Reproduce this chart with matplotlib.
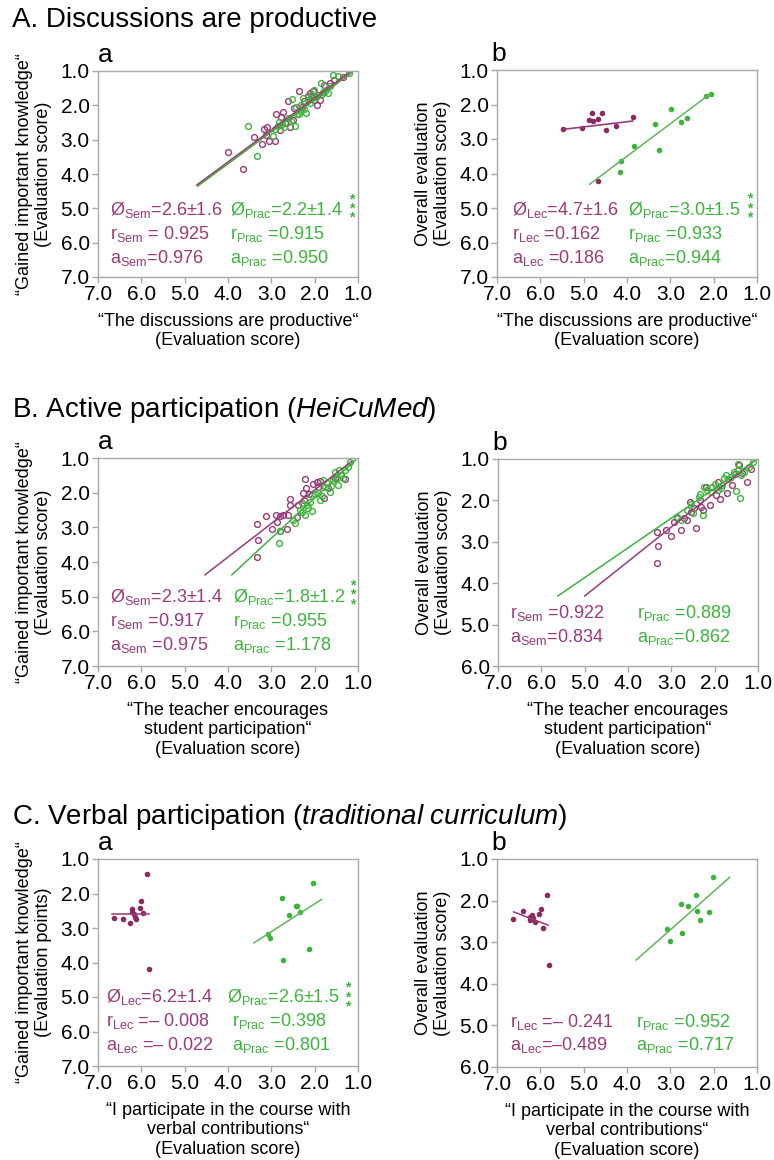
import matplotlib
matplotlib.use("Agg")
import matplotlib.pyplot as plt

plt.rcParams['font.family'] = ['Liberation Sans', 'DejaVu Sans']
plt.rcParams['mathtext.fontset'] = 'custom'
plt.rcParams['mathtext.rm'] = 'Liberation Sans'
plt.rcParams['mathtext.it'] = 'Liberation Sans:italic'

PURPLE = '#9a3a78'
GREEN = '#3cb43c'

# ---- A a: discussions productive vs gained knowledge (open circles)
aa_sem_x = [3.99, 3.66, 3.40, 3.22, 3.18, 3.11, 3.12, 3.05, 2.92, 2.89, 2.77, 2.72, 2.57, 2.51, 2.61, 2.48,
            2.35, 2.24, 2.15, 2.03, 2.01, 1.87, 1.78, 1.65, 1.35, 1.95, 2.80, 2.68, 2.30, 2.10, 1.55, 1.92]
aa_sem_y = [3.35, 3.86, 2.91, 3.14, 2.68, 2.62, 2.87, 3.04, 3.04, 2.26, 2.34, 2.19, 2.64, 2.43, 1.86, 2.08,
            1.57, 1.88, 1.74, 1.57, 1.84, 1.84, 1.42, 1.34, 1.17, 1.98, 2.72, 2.50, 2.05, 1.65, 1.25, 1.70]
aa_prac_x = [3.32, 3.53, 2.95, 2.92, 2.82, 2.70, 2.61, 2.55, 2.53, 2.42, 2.34, 2.32, 2.35, 2.21, 2.27, 2.08,
             2.02, 1.96, 1.84, 1.85, 1.76, 1.70, 1.57, 1.45, 1.21, 2.11, 2.45, 2.75, 2.40, 1.80, 2.15, 1.65,
             2.05, 2.85, 2.25]
aa_prac_y = [3.48, 2.60, 2.89, 2.68, 2.49, 2.64, 2.37, 2.47, 1.81, 2.04, 2.16, 2.00, 2.24, 2.22, 1.79, 1.69,
             1.54, 1.75, 1.67, 1.35, 1.57, 1.64, 1.13, 1.16, 1.05, 1.92, 2.61, 2.55, 2.25, 1.60, 1.85, 1.45,
             1.80, 2.60, 2.10]
aa_sem_line = ([4.72, 1.18], [4.32, 1.02])
aa_prac_line = ([4.70, 1.15], [4.35, 1.05])

# ---- A b: discussions productive vs overall evaluation (filled dots)
ab_lec_x = [5.47, 5.03, 4.80, 4.58, 4.88, 4.79, 4.66, 4.48, 4.25, 3.87, 4.67]
ab_lec_y = [2.72, 2.67, 2.26, 2.24, 2.44, 2.47, 2.43, 2.73, 2.61, 2.36, 4.23]
ab_prac_x = [2.17, 2.05, 2.99, 3.35, 2.76, 2.61, 3.84, 3.26, 4.14, 4.16]
ab_prac_y = [1.74, 1.70, 2.14, 2.57, 2.52, 2.38, 3.19, 3.31, 3.65, 3.95]
ab_lec_line = ([5.47, 3.87], [2.72, 2.48])
ab_prac_line = ([4.86, 2.11], [4.31, 1.72])

# ---- B a: teacher encourages participation vs gained knowledge
ba_sem_x = [3.32, 3.30, 3.32, 3.12, 2.99, 2.90, 2.88, 2.80, 2.72, 2.62, 2.79, 2.63, 2.58, 2.57, 2.38, 2.22,
            2.21, 2.26, 2.25, 2.03, 1.95, 1.93, 1.88, 1.78, 1.69, 1.30, 1.53, 2.41, 2.13]
ba_sem_y = [2.91, 3.36, 3.86, 2.68, 3.06, 2.64, 2.84, 2.67, 2.64, 2.65, 3.12, 3.05, 2.19, 2.36, 2.36, 1.61,
            1.86, 2.02, 2.21, 1.76, 1.68, 1.83, 1.66, 2.14, 1.87, 1.61, 1.59, 2.69, 2.05]
ba_prac_x = [2.82, 2.81, 2.49, 2.45, 2.34, 2.30, 2.22, 2.16, 2.07, 2.18, 2.11, 1.99, 1.92, 1.82, 1.88, 1.76,
             1.72, 1.62, 1.57, 1.49, 1.53, 1.44, 1.39, 1.34, 1.45, 1.30, 1.18, 1.22, 1.65, 2.07, 2.30, 1.80]
ba_prac_y = [3.44, 3.12, 2.79, 2.88, 2.50, 2.55, 2.64, 2.45, 2.53, 2.36, 2.26, 2.05, 2.02, 2.09, 2.21, 1.83,
             1.73, 1.80, 1.63, 1.57, 1.39, 1.35, 1.49, 1.59, 1.78, 1.35, 1.12, 1.25, 1.97, 2.07, 2.31, 1.63]
ba_sem_line = ([4.53, 1.15], [4.37, 1.10])
ba_prac_line = ([3.91, 1.05], [4.37, 1.05])

# ---- B b: teacher encourages participation vs overall evaluation
bb_sem_x = [3.32, 3.30, 3.32, 3.13, 3.00, 2.94, 2.77, 2.86, 2.71, 2.63, 2.44, 2.55, 2.48, 2.32, 2.28, 2.34,
            2.57, 2.20, 1.92, 1.87, 1.97, 1.72, 1.61, 1.43, 1.26, 1.36, 1.16, 1.53, 2.11]
bb_sem_y = [3.50, 3.09, 2.76, 2.71, 2.85, 2.51, 2.71, 2.43, 2.42, 2.47, 2.67, 2.27, 2.19, 2.15, 2.23, 1.99,
            2.03, 1.67, 1.55, 1.97, 1.87, 1.83, 1.63, 1.14, 1.55, 1.35, 1.23, 1.37, 2.11]
bb_prac_x = [2.55, 2.63, 2.51, 2.86, 2.78, 2.36, 2.34, 2.24, 2.17, 2.09, 2.05, 2.00, 1.82, 1.78, 1.74, 1.69,
             1.63, 1.56, 1.47, 1.39, 1.32, 1.47, 1.20, 1.12, 1.51, 1.41, 1.86, 2.28, 1.93]
bb_prac_y = [2.09, 2.23, 2.31, 2.39, 2.47, 1.91, 1.85, 1.67, 1.75, 1.79, 1.67, 1.61, 1.63, 1.47, 1.39, 1.48,
             1.43, 1.31, 1.27, 1.39, 1.31, 1.13, 1.19, 1.07, 1.77, 1.95, 1.71, 2.35, 1.75]
bb_sem_line = ([5.00, 1.10], [4.31, 1.06])
bb_prac_line = ([5.62, 1.01], [4.31, 1.00])

# ---- C a: verbal contributions vs gained knowledge
ca_lec_x = [5.87, 6.64, 6.43, 6.26, 6.21, 6.22, 6.18, 6.15, 6.13, 6.04, 6.01, 5.97, 5.82]
ca_lec_y = [1.43, 2.71, 2.75, 2.85, 2.44, 2.53, 2.60, 2.67, 2.73, 2.41, 2.22, 2.56, 4.19]
ca_prac_x = [2.03, 2.75, 2.42, 2.60, 2.33, 3.08, 3.02, 2.12, 2.74, 2.40]
ca_prac_y = [1.69, 2.12, 2.35, 2.63, 2.55, 3.17, 3.29, 3.62, 3.93, 2.37]
ca_lec_line = ([6.68, 5.82], [2.59, 2.59])
ca_prac_line = ([3.40, 1.84], [3.43, 2.17])

# ---- C b: verbal contributions vs overall evaluation
cb_lec_x = [5.85, 6.62, 6.41, 6.20, 6.24, 6.18, 6.12, 6.02, 5.99, 5.95, 5.79, 6.25]
cb_lec_y = [1.86, 2.45, 2.26, 2.35, 2.47, 2.43, 2.51, 2.33, 2.21, 2.66, 3.54, 2.40]
cb_prac_x = [2.02, 2.41, 2.75, 2.59, 2.39, 2.11, 2.32, 3.08, 2.72, 3.01]
cb_prac_y = [1.44, 1.86, 2.08, 2.14, 2.26, 2.27, 2.47, 2.68, 2.77, 2.98]
cb_lec_line = ([6.62, 5.82], [2.27, 2.59])
cb_prac_line = ([3.79, 1.63], [3.43, 1.44])

ticks7 = [7.0, 6.0, 5.0, 4.0, 3.0, 2.0, 1.0]
ticks6 = [6.0, 5.0, 4.0, 3.0, 2.0, 1.0]

fig = plt.figure(figsize=(7.74, 11.6), dpi=100)


def make_ax(rect, ymax, letter, letter_x):
    ax = fig.add_axes(rect)
    ax.set_xlim(7, 1)
    ax.set_ylim(ymax, 1)
    ax.set_xticks(ticks7)
    ax.set_xticklabels([f"{t:.1f}" for t in ticks7])
    yt = ticks7 if ymax == 7 else ticks6
    ax.set_yticks(yt)
    ax.set_yticklabels([f"{t:.1f}" for t in yt])
    for s in ax.spines.values():
        s.set_color('#a8a8a8')
        s.set_linewidth(1.0)
    ax.tick_params(direction='out', length=4, width=1, color='#a8a8a8',
                   labelsize=15, pad=2)
    ax.text(letter_x, 1.02, letter, transform=ax.transAxes, fontsize=19,
            ha='left', va='bottom')
    return ax


def stats(ax, x, rows, y, color, dy):
    for i, s in enumerate(rows):
        ax.text(x, y + i * dy, s, color=color, fontsize=13, va='baseline', ha='left')


def stars(ax, x, y):
    ax.text(x, y, "*\n*\n*", color=GREEN, fontsize=10, ha='center', va='center',
            linespacing=0.55, fontweight='bold')


ms_open = dict(marker='o', linestyle='none', markersize=4.2, markerfacecolor='none',
               markeredgewidth=1.0)
ms_fill = dict(marker='o', linestyle='none', markersize=4.0, markeredgewidth=0)

W = 0.3359

# titles
fig.text(0.016, 1 - 20 / 1160, "A. Discussions are productive", fontsize=20, va='center')
fig.text(0.016, 1 - 410 / 1160, r"B. Active participation ($\mathit{HeiCuMed}$)", fontsize=20, va='center')
fig.text(0.016, 1 - 817 / 1160, r"C. Verbal participation ($\mathit{traditional\ curriculum}$)",
         fontsize=20, va='center')

ylab_know = "\u201cGained important knowledge\u201c\n(Evaluation score)"
ylab_over = "Overall evaluation\n(Evaluation score)"
xlab_a = "\u201cThe discussions are productive\u201c\n(Evaluation score)"
xlab_b = "\u201cThe teacher encourages\nstudent participation\u201c\n(Evaluation score)"
xlab_c = "\u201cI participate in the course with\nverbal contributions\u201c\n(Evaluation score)"
LFS = 13

# ---- A a
ax = make_ax([98 / 774, 1 - 277 / 1160, W, 206 / 1160], 7, 'a', 0.0)
ax.plot(aa_sem_x, aa_sem_y, color=PURPLE, markeredgecolor=PURPLE, **ms_open)
ax.plot(aa_prac_x, aa_prac_y, color=GREEN, markeredgecolor=GREEN, **ms_open)
ax.plot(*aa_sem_line, color=PURPLE, lw=1.1)
ax.plot(*aa_prac_line, color='#4f9a3c', lw=1.2)
stats(ax, 6.72, [r"Ø$_{\mathrm{Sem}}$=2.6±1.6", r"r$_{\mathrm{Sem}}$ = 0.925", r"a$_{\mathrm{Sem}}$=0.976"],
      5.19, PURPLE, 0.70)
stats(ax, 3.95, [r"Ø$_{\mathrm{Prac}}$=2.2±1.4", r"r$_{\mathrm{Prac}}$ =0.915", r"a$_{\mathrm{Prac}}$ =0.950"],
      5.19, GREEN, 0.70)
stars(ax, 1.14, 5.0)
ax.set_ylabel(ylab_know, fontsize=LFS, labelpad=6)
ax.set_xlabel(xlab_a, fontsize=LFS, labelpad=6)

# ---- A b
ax = make_ax([497 / 774, 1 - 277 / 1160, W, 207 / 1160], 7, 'b', -0.02)
ax.plot(ab_lec_x, ab_lec_y, color='#8c2a60', **ms_fill)
ax.plot(ab_prac_x, ab_prac_y, color=GREEN, **ms_fill)
ax.plot(*ab_lec_line, color=PURPLE, lw=1.2)
ax.plot(*ab_prac_line, color='#5cb85c', lw=1.1)
stats(ax, 6.66, [r"Ø$_{\mathrm{Lec}}$=4.7±1.6", r"r$_{\mathrm{Lec}}$ =0.162", r"a$_{\mathrm{Lec}}$ =0.186"],
      5.20, PURPLE, 0.70)
stats(ax, 3.97, [r"Ø$_{\mathrm{Prac}}$=3.0±1.5", r"r$_{\mathrm{Prac}}$ =0.933", r"a$_{\mathrm{Prac}}$=0.944"],
      5.20, GREEN, 0.70)
stars(ax, 1.17, 5.0)
ax.set_ylabel(ylab_over, fontsize=LFS, labelpad=6)
ax.set_xlabel(xlab_a, fontsize=LFS, labelpad=6)

# ---- B a
ax = make_ax([98 / 774, 1 - 666 / 1160, W, 208 / 1160], 7, 'a', 0.0)
ax.plot(ba_sem_x, ba_sem_y, color=PURPLE, markeredgecolor=PURPLE, **ms_open)
ax.plot(ba_prac_x, ba_prac_y, color=GREEN, markeredgecolor=GREEN, **ms_open)
ax.plot(*ba_sem_line, color=PURPLE, lw=1.1)
ax.plot(*ba_prac_line, color=GREEN, lw=1.1)
stats(ax, 6.72, [r"Ø$_{\mathrm{Sem}}$=2.3±1.4", r"r$_{\mathrm{Sem}}$ =0.917", r"a$_{\mathrm{Sem}}$ =0.975"],
      5.14, PURPLE, 0.70)
stats(ax, 3.88, [r"Ø$_{\mathrm{Prac}}$=1.8±1.2", r"r$_{\mathrm{Prac}}$ =0.955", r"a$_{\mathrm{Prac}}$ =1.178"],
      5.14, GREEN, 0.70)
stars(ax, 1.12, 4.95)
ax.set_ylabel(ylab_know, fontsize=LFS, labelpad=6)
ax.set_xlabel(xlab_b, fontsize=LFS, labelpad=6)

# ---- B b
ax = make_ax([498 / 774, 1 - 666 / 1160, W, 207 / 1160], 6, 'b', -0.02)
ax.plot(bb_sem_x, bb_sem_y, color=PURPLE, markeredgecolor=PURPLE, **ms_open)
ax.plot(bb_prac_x, bb_prac_y, color=GREEN, markeredgecolor=GREEN, **ms_open)
ax.plot(*bb_sem_line, color=PURPLE, lw=1.1)
ax.plot(*bb_prac_line, color=GREEN, lw=1.1)
stats(ax, 6.72, [r"r$_{\mathrm{Sem}}$ =0.922", r"a$_{\mathrm{Sem}}$=0.834"], 4.85, PURPLE, 0.56)
stats(ax, 3.79, [r"r$_{\mathrm{Prac}}$ =0.889", r"a$_{\mathrm{Prac}}$=0.862"], 4.85, GREEN, 0.56)
ax.set_ylabel(ylab_over, fontsize=LFS, labelpad=6)
ax.set_xlabel(xlab_b, fontsize=LFS, labelpad=6)

# ---- C a
ax = make_ax([98 / 774, 1 - 1066 / 1160, W, 207 / 1160], 7, 'a', 0.0)
ax.plot(ca_lec_x, ca_lec_y, color='#8c2a60', **ms_fill)
ax.plot(ca_prac_x, ca_prac_y, color=GREEN, **ms_fill)
ax.plot(*ca_lec_line, color=PURPLE, lw=1.1)
ax.plot(*ca_prac_line, color='#5cb85c', lw=1.1)
stats(ax, 6.82, [r"Ø$_{\mathrm{Lec}}$=6.2±1.4", r"r$_{\mathrm{Lec}}$ =– 0.008", r"a$_{\mathrm{Lec}}$ =– 0.022"],
      5.14, PURPLE, 0.70)
stats(ax, 4.03, [r"Ø$_{\mathrm{Prac}}$=2.6±1.5", r" r$_{\mathrm{Prac}}$ =0.398", r" a$_{\mathrm{Prac}}$ =0.801"],
      5.14, GREEN, 0.70)
stars(ax, 1.24, 5.0)
ax.set_ylabel("\u201cGained important knowledge\u201c\n(Evaluation points)", fontsize=LFS, labelpad=6)
ax.set_xlabel(xlab_c, fontsize=LFS, labelpad=6)

# ---- C b
ax = make_ax([497 / 774, 1 - 1067 / 1160, 260 / 774, 208 / 1160], 6, 'b', -0.02)
ax.plot(cb_lec_x, cb_lec_y, color='#8c2a60', **ms_fill)
ax.plot(cb_prac_x, cb_prac_y, color=GREEN, **ms_fill)
ax.plot(*cb_lec_line, color=PURPLE, lw=1.1)
ax.plot(*cb_prac_line, color='#5cb85c', lw=1.1)
stats(ax, 6.70, [r"r$_{\mathrm{Lec}}$ =– 0.241", r"a$_{\mathrm{Lec}}$=–0.489"], 5.03, PURPLE, 0.56)
stats(ax, 3.79, [r"r$_{\mathrm{Prac}}$ =0.952", r"a$_{\mathrm{Prac}}$ =0.717"], 5.03, GREEN, 0.56)
ax.set_ylabel(ylab_over, fontsize=LFS, labelpad=6)
ax.set_xlabel(xlab_c, fontsize=LFS, labelpad=6)

fig.savefig("out.png", dpi=100)
